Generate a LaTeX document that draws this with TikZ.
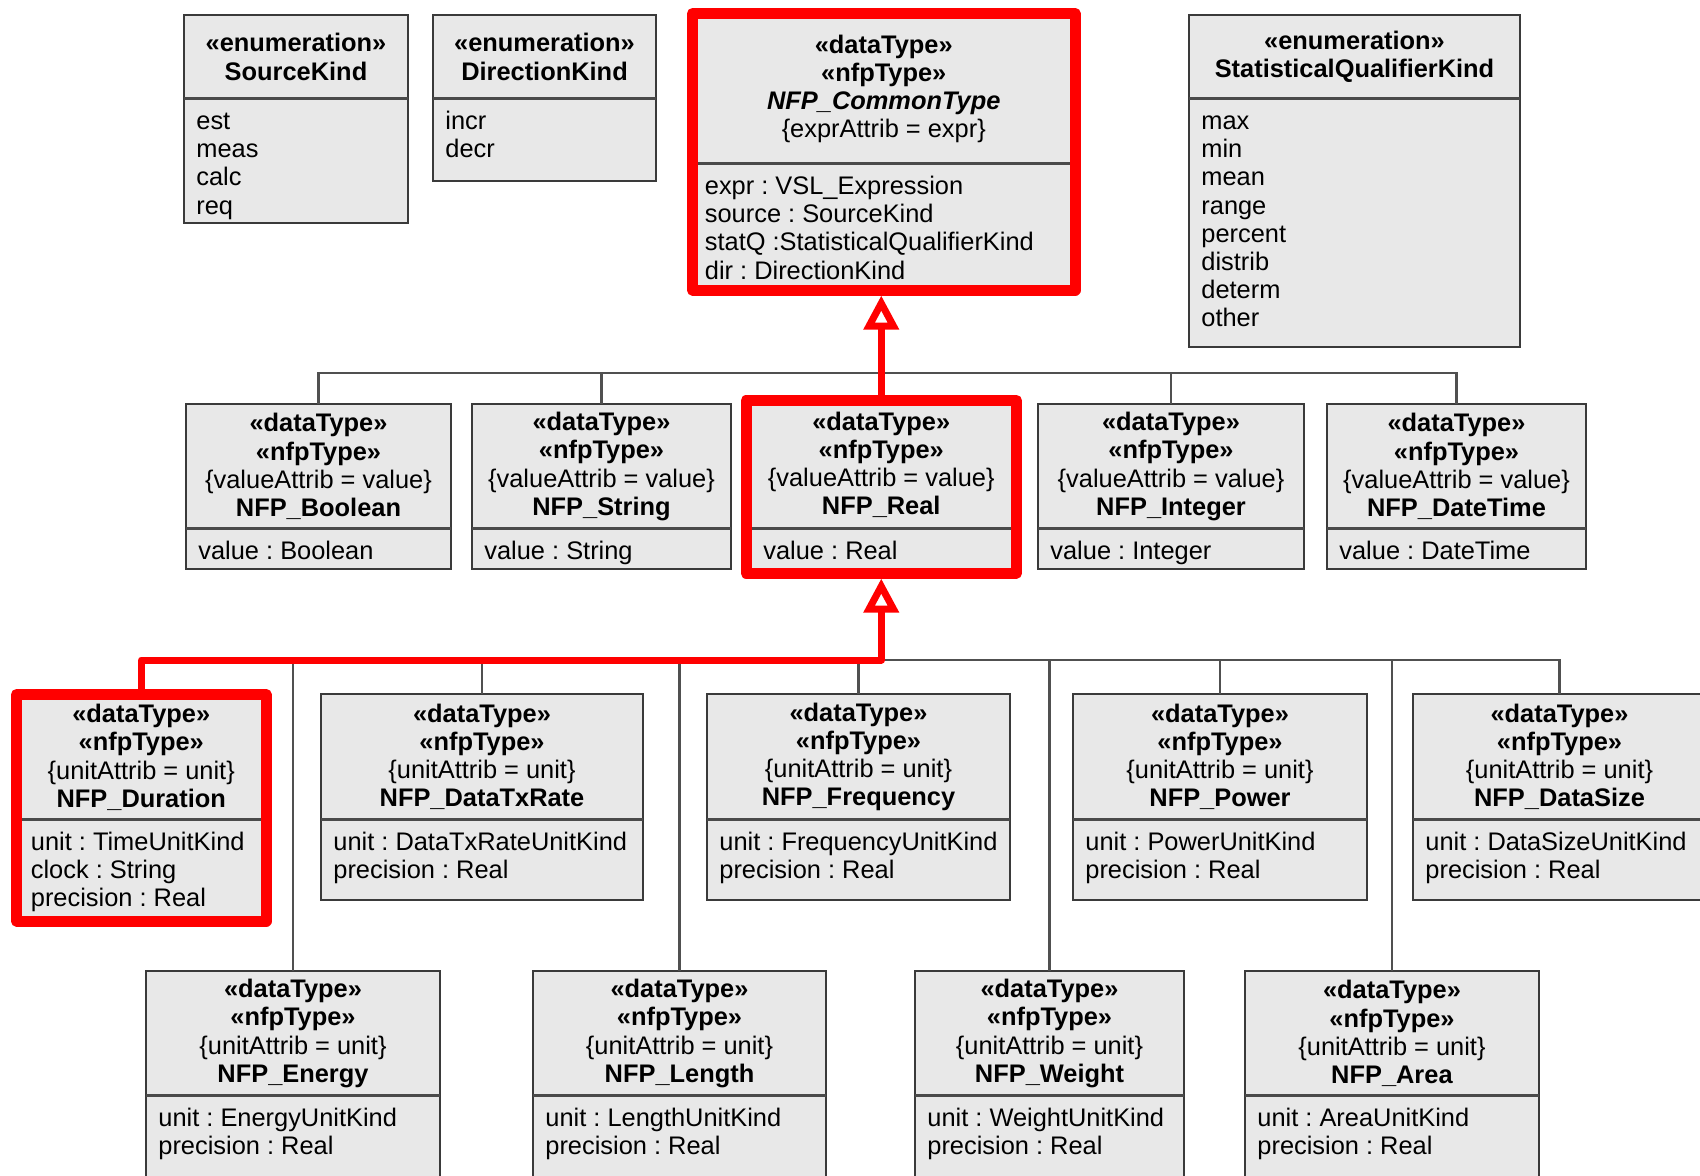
\documentclass[tikz,border=0pt]{standalone}
\usepackage{fontspec}
\setmainfont{Liberation Sans}
\usetikzlibrary{arrows.meta,fit}
\frenchspacing

\definecolor{boxfill}{HTML}{E8E8E8}
\definecolor{boxline}{HTML}{3A3A3A}
\definecolor{divline}{HTML}{4A4A4A}
\definecolor{genline}{HTML}{505050}
\definecolor{hilite}{HTML}{FF0000}

\tikzset{
  classbox/.style={draw=boxline, fill=boxfill, line width=1.1pt, inner sep=0pt, outer sep=0pt},
  hdrtext/.style={align=center, inner sep=0pt, font=\fontsize{12.7}{14.1}\selectfont},
  attrtext/.style={align=left, anchor=north west, inner sep=0pt, font=\fontsize{12.7}{14.1}\selectfont},
  divider/.style={draw=divline, line width=1.5pt},
  hiliteframe/.style={draw=hilite, line width=5.5pt, line join=round},
  genbus/.style={draw=genline, line width=1.1pt},
  redgen/.style={draw=hilite, line width=3.5pt, line join=round,
    -{Triangle[open, length=17pt, width=17pt]}},
}

% stereotype header of an NFP data type: constraint line and type name
\newcommand\nfphead[2]{\textbf{«dataType»}\\\textbf{«nfpType»}\\#1\\\textbf{#2}}

% class box: name, left, top, right, bottom, divider y, text indent, header, attributes
\newcommand\umlclass[9]{%
  \node[classbox, fit={(#2,#3) (#4,#5)}] (#1) {};
  \draw[divider] (#2,#6) -- (#4,#6);
  \node[hdrtext] (#1-head) at ({(#2+#4)/2},{(#3+#6)/2+0.5}) {#8};
  \node[attrtext] (#1-attrs) at (#2+#7,#6+12.4) {\rule{0pt}{9.3pt}#9};
}

\begin{document}
\begin{tikzpicture}[x=0.5pt, y=-0.5pt]
\useasboundingbox (0,0) rectangle (1700,1175);
\fill[white] (0,0) rectangle (1700,1175);
\clip (0,0) rectangle (1700,1175);

% enumerations and the common root type
\umlclass{srck}{184}{15}{408}{223}{98}{12}{\textbf{«enumeration»}\\\textbf{SourceKind}}{est\\meas\\calc\\req}
\umlclass{dirk}{433}{15}{656}{181}{98}{12}{\textbf{«enumeration»}\\\textbf{DirectionKind}}{incr\\decr}
\umlclass{common}{692.5}{13.5}{1075}{290}{163}{12}{\textbf{«dataType»}\\\textbf{«nfpType»}\\\textbf{\textit{NFP\_CommonType}}\\\{exprAttrib = expr\}}{expr : VSL\_Expression\\source : SourceKind\\statQ :StatisticalQualifierKind\\dir : DirectionKind}
\umlclass{statk}{1189}{15}{1520}{347}{98}{12}{\textbf{«enumeration»}\\\textbf{StatisticalQualifierKind}}{max\\min\\mean\\range\\percent\\distrib\\determ\\other}

% value based types
\umlclass{bool}{186}{404}{451}{569}{528}{12}{\nfphead{\{valueAttrib = value\}}{NFP\_Boolean}}{value : Boolean}
\umlclass{str}{472}{404}{731}{569}{528}{12}{\nfphead{\{valueAttrib = value\}}{NFP\_String}}{value : String}
\umlclass{real}{746}{400.5}{1016.5}{573}{528}{17}{\nfphead{\{valueAttrib = value\}}{NFP\_Real}}{value : Real}
\umlclass{int}{1038}{404}{1304}{569}{528}{12}{\nfphead{\{valueAttrib = value\}}{NFP\_Integer}}{value : Integer}
\umlclass{dtime}{1327}{404}{1586}{569}{528}{12}{\nfphead{\{valueAttrib = value\}}{NFP\_DateTime}}{value : DateTime}

% unit based types, upper row
\umlclass{dur}{16.5}{694.5}{266}{921}{819}{14}{\nfphead{\{unitAttrib = unit\}}{NFP\_Duration}}{unit : TimeUnitKind\\clock : String\\precision : Real}
\umlclass{txrate}{321}{694}{643}{900}{819}{12}{\nfphead{\{unitAttrib = unit\}}{NFP\_DataTxRate}}{unit : DataTxRateUnitKind\\precision : Real}
\umlclass{freq}{707}{694}{1010}{900}{819}{12}{\nfphead{\{unitAttrib = unit\}}{NFP\_Frequency}}{unit : FrequencyUnitKind\\precision : Real}
\umlclass{power}{1073}{694}{1367}{900}{819}{12}{\nfphead{\{unitAttrib = unit\}}{NFP\_Power}}{unit : PowerUnitKind\\precision : Real}
\umlclass{dsize}{1413}{694}{1706}{900}{819}{12}{\nfphead{\{unitAttrib = unit\}}{NFP\_DataSize}}{unit : DataSizeUnitKind\\precision : Real}

% unit based types, lower row
\umlclass{energy}{146}{971}{440}{1190}{1095}{12}{\nfphead{\{unitAttrib = unit\}}{NFP\_Energy}}{unit : EnergyUnitKind\\precision : Real}
\umlclass{length}{533}{971}{826}{1190}{1095}{12}{\nfphead{\{unitAttrib = unit\}}{NFP\_Length}}{unit : LengthUnitKind\\precision : Real}
\umlclass{weight}{915}{971}{1184}{1190}{1095}{12}{\nfphead{\{unitAttrib = unit\}}{NFP\_Weight}}{unit : WeightUnitKind\\precision : Real}
\umlclass{area}{1245}{971}{1539}{1190}{1095}{12}{\nfphead{\{unitAttrib = unit\}}{NFP\_Area}}{unit : AreaUnitKind\\precision : Real}

% junction points of the generalization sets
\path (real.north) ++(0,-27.5) coordinate (busA);
\path (real.south) ++(0,87) coordinate (busB);

% shared generalization lines
\foreach \n in {bool,str,int,dtime}
  \draw[genbus] (\n.north) |- (busA);
\foreach \n in {energy,txrate,length,freq,weight,power,area,dsize}
  \draw[genbus] (\n.north) |- (busB);

% highlighted path
\foreach \n in {common,real,dur}
  \draw[hiliteframe] (\n.south west) rectangle (\n.north east);
\draw[redgen, shorten >=2.75pt] (real.north) -- (real.north |- common.south);
\draw[redgen, shorten >=2.75pt] (dur.north) |- (busB) -- (real.south);
\end{tikzpicture}
\end{document}
